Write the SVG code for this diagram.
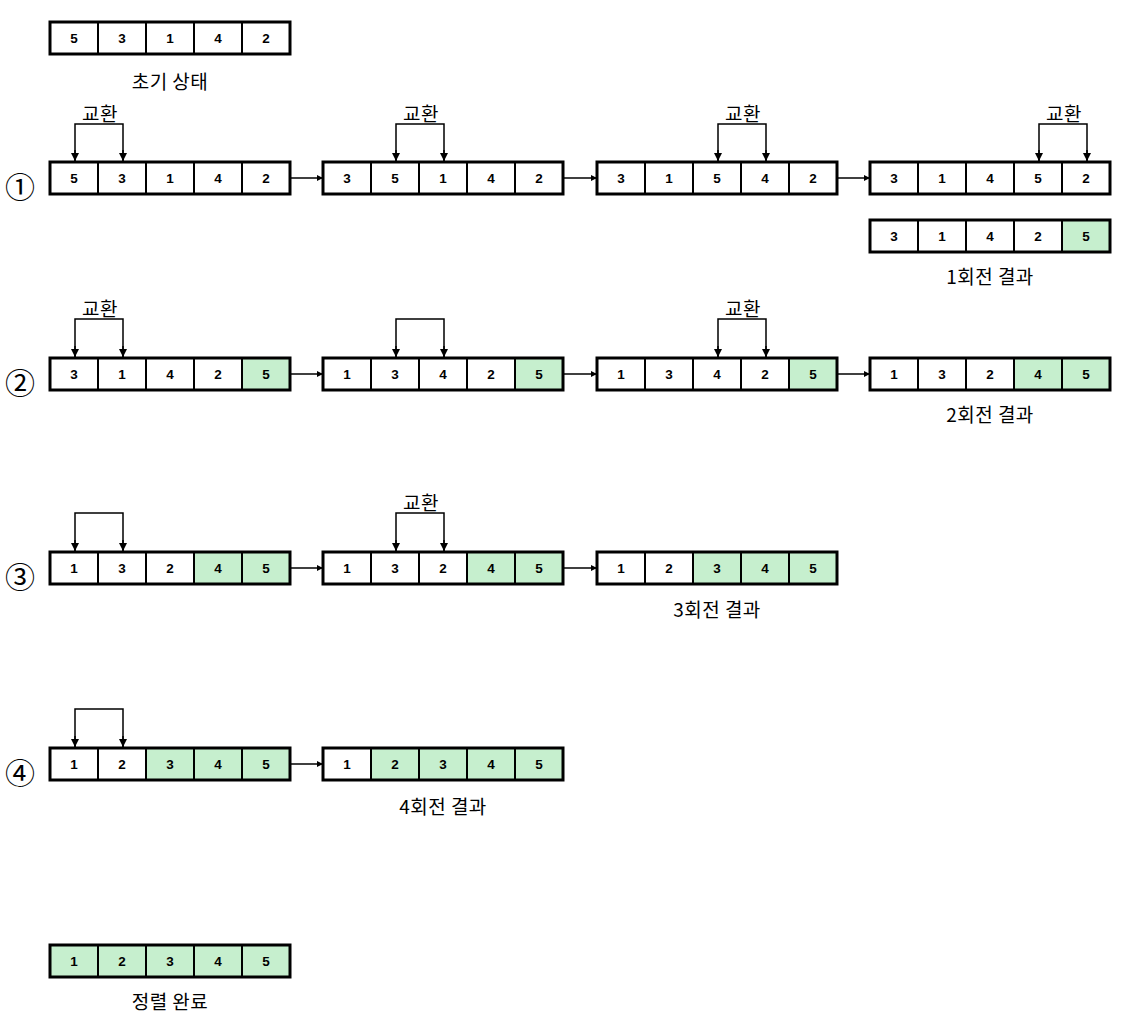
<svg xmlns="http://www.w3.org/2000/svg" width="1124" height="1026" viewBox="0 0 1124 1026">
<style>
.c{fill:#fff;stroke:#000;stroke-width:2}
.g{fill:#c6efce;stroke:#000;stroke-width:2}
.o{fill:none;stroke:#000;stroke-width:3}
.n{font-family:"Liberation Sans",Arial,sans-serif;font-weight:bold;font-size:13.5px;text-anchor:middle;dominant-baseline:central;fill:#000}
.l{font-family:"Noto Sans CJK KR","Noto Sans",sans-serif;font-size:19px;letter-spacing:0.5px;text-anchor:middle;dominant-baseline:central;fill:#000}
.k{font-family:"Noto Sans CJK KR","Noto Sans CJK JP",sans-serif;font-size:30px;text-anchor:middle;dominant-baseline:central;fill:#000}
.ln{fill:none;stroke:#000;stroke-width:1.5}
</style>
<defs>
<marker id="ah" viewBox="0 0 10 10" refX="10" refY="5" markerWidth="6" markerHeight="6" markerUnits="userSpaceOnUse" orient="auto"><path d="M0,0 L10,5 L0,10 z" fill="#000"/></marker>
<marker id="ah2" viewBox="0 0 10 10" refX="10" refY="5" markerWidth="8" markerHeight="8" markerUnits="userSpaceOnUse" orient="auto"><path d="M0,0 L10,5 L0,10 z" fill="#000"/></marker>
</defs>

<g id="init">
<rect class="c" x="50" y="22" width="48" height="32"/><text class="n" x="74" y="38">5</text>
<rect class="c" x="98" y="22" width="48" height="32"/><text class="n" x="122" y="38">3</text>
<rect class="c" x="146" y="22" width="48" height="32"/><text class="n" x="170" y="38">1</text>
<rect class="c" x="194" y="22" width="48" height="32"/><text class="n" x="218" y="38">4</text>
<rect class="c" x="242" y="22" width="48" height="32"/><text class="n" x="266" y="38">2</text>
<rect class="o" x="50" y="22" width="240" height="32"/>
<text class="l" x="170" y="80">초기 상태</text>
</g>

<g id="nums">
<text class="k" x="20" y="185">①</text>
<text class="k" x="20" y="381">②</text>
<text class="k" x="20" y="575">③</text>
<text class="k" x="20" y="771">④</text>
</g>

<g id="r1a1">
<rect class="c" x="50" y="162" width="48" height="32"/><text class="n" x="74" y="178">5</text>
<rect class="c" x="98" y="162" width="48" height="32"/><text class="n" x="122" y="178">3</text>
<rect class="c" x="146" y="162" width="48" height="32"/><text class="n" x="170" y="178">1</text>
<rect class="c" x="194" y="162" width="48" height="32"/><text class="n" x="218" y="178">4</text>
<rect class="c" x="242" y="162" width="48" height="32"/><text class="n" x="266" y="178">2</text>
<rect class="o" x="50" y="162" width="240" height="32"/>
</g>
<g id="r1a2">
<rect class="c" x="323" y="162" width="48" height="32"/><text class="n" x="347" y="178">3</text>
<rect class="c" x="371" y="162" width="48" height="32"/><text class="n" x="395" y="178">5</text>
<rect class="c" x="419" y="162" width="48" height="32"/><text class="n" x="443" y="178">1</text>
<rect class="c" x="467" y="162" width="48" height="32"/><text class="n" x="491" y="178">4</text>
<rect class="c" x="515" y="162" width="48" height="32"/><text class="n" x="539" y="178">2</text>
<rect class="o" x="323" y="162" width="240" height="32"/>
</g>
<g id="r1a3">
<rect class="c" x="597" y="162" width="48" height="32"/><text class="n" x="621" y="178">3</text>
<rect class="c" x="645" y="162" width="48" height="32"/><text class="n" x="669" y="178">1</text>
<rect class="c" x="693" y="162" width="48" height="32"/><text class="n" x="717" y="178">5</text>
<rect class="c" x="741" y="162" width="48" height="32"/><text class="n" x="765" y="178">4</text>
<rect class="c" x="789" y="162" width="48" height="32"/><text class="n" x="813" y="178">2</text>
<rect class="o" x="597" y="162" width="240" height="32"/>
</g>
<g id="r1a4">
<rect class="c" x="870" y="162" width="48" height="32"/><text class="n" x="894" y="178">3</text>
<rect class="c" x="918" y="162" width="48" height="32"/><text class="n" x="942" y="178">1</text>
<rect class="c" x="966" y="162" width="48" height="32"/><text class="n" x="990" y="178">4</text>
<rect class="c" x="1014" y="162" width="48" height="32"/><text class="n" x="1038" y="178">5</text>
<rect class="c" x="1062" y="162" width="48" height="32"/><text class="n" x="1086" y="178">2</text>
<rect class="o" x="870" y="162" width="240" height="32"/>
</g>
<g id="r1res">
<rect class="c" x="870" y="220" width="48" height="32"/><text class="n" x="894" y="236">3</text>
<rect class="c" x="918" y="220" width="48" height="32"/><text class="n" x="942" y="236">1</text>
<rect class="c" x="966" y="220" width="48" height="32"/><text class="n" x="990" y="236">4</text>
<rect class="c" x="1014" y="220" width="48" height="32"/><text class="n" x="1038" y="236">2</text>
<rect class="g" x="1062" y="220" width="48" height="32"/><text class="n" x="1086" y="236">5</text>
<rect class="o" x="870" y="220" width="240" height="32"/>
<text class="l" x="990" y="275">1회전 결과</text>
</g>

<g id="r2a1">
<rect class="c" x="50" y="358" width="48" height="32"/><text class="n" x="74" y="374">3</text>
<rect class="c" x="98" y="358" width="48" height="32"/><text class="n" x="122" y="374">1</text>
<rect class="c" x="146" y="358" width="48" height="32"/><text class="n" x="170" y="374">4</text>
<rect class="c" x="194" y="358" width="48" height="32"/><text class="n" x="218" y="374">2</text>
<rect class="g" x="242" y="358" width="48" height="32"/><text class="n" x="266" y="374">5</text>
<rect class="o" x="50" y="358" width="240" height="32"/>
</g>
<g id="r2a2">
<rect class="c" x="323" y="358" width="48" height="32"/><text class="n" x="347" y="374">1</text>
<rect class="c" x="371" y="358" width="48" height="32"/><text class="n" x="395" y="374">3</text>
<rect class="c" x="419" y="358" width="48" height="32"/><text class="n" x="443" y="374">4</text>
<rect class="c" x="467" y="358" width="48" height="32"/><text class="n" x="491" y="374">2</text>
<rect class="g" x="515" y="358" width="48" height="32"/><text class="n" x="539" y="374">5</text>
<rect class="o" x="323" y="358" width="240" height="32"/>
</g>
<g id="r2a3">
<rect class="c" x="597" y="358" width="48" height="32"/><text class="n" x="621" y="374">1</text>
<rect class="c" x="645" y="358" width="48" height="32"/><text class="n" x="669" y="374">3</text>
<rect class="c" x="693" y="358" width="48" height="32"/><text class="n" x="717" y="374">4</text>
<rect class="c" x="741" y="358" width="48" height="32"/><text class="n" x="765" y="374">2</text>
<rect class="g" x="789" y="358" width="48" height="32"/><text class="n" x="813" y="374">5</text>
<rect class="o" x="597" y="358" width="240" height="32"/>
</g>
<g id="r2a4">
<rect class="c" x="870" y="358" width="48" height="32"/><text class="n" x="894" y="374">1</text>
<rect class="c" x="918" y="358" width="48" height="32"/><text class="n" x="942" y="374">3</text>
<rect class="c" x="966" y="358" width="48" height="32"/><text class="n" x="990" y="374">2</text>
<rect class="g" x="1014" y="358" width="48" height="32"/><text class="n" x="1038" y="374">4</text>
<rect class="g" x="1062" y="358" width="48" height="32"/><text class="n" x="1086" y="374">5</text>
<rect class="o" x="870" y="358" width="240" height="32"/>
<text class="l" x="990" y="413">2회전 결과</text>
</g>

<g id="r3a1">
<rect class="c" x="50" y="552" width="48" height="32"/><text class="n" x="74" y="568">1</text>
<rect class="c" x="98" y="552" width="48" height="32"/><text class="n" x="122" y="568">3</text>
<rect class="c" x="146" y="552" width="48" height="32"/><text class="n" x="170" y="568">2</text>
<rect class="g" x="194" y="552" width="48" height="32"/><text class="n" x="218" y="568">4</text>
<rect class="g" x="242" y="552" width="48" height="32"/><text class="n" x="266" y="568">5</text>
<rect class="o" x="50" y="552" width="240" height="32"/>
</g>
<g id="r3a2">
<rect class="c" x="323" y="552" width="48" height="32"/><text class="n" x="347" y="568">1</text>
<rect class="c" x="371" y="552" width="48" height="32"/><text class="n" x="395" y="568">3</text>
<rect class="c" x="419" y="552" width="48" height="32"/><text class="n" x="443" y="568">2</text>
<rect class="g" x="467" y="552" width="48" height="32"/><text class="n" x="491" y="568">4</text>
<rect class="g" x="515" y="552" width="48" height="32"/><text class="n" x="539" y="568">5</text>
<rect class="o" x="323" y="552" width="240" height="32"/>
</g>
<g id="r3a3">
<rect class="c" x="597" y="552" width="48" height="32"/><text class="n" x="621" y="568">1</text>
<rect class="c" x="645" y="552" width="48" height="32"/><text class="n" x="669" y="568">2</text>
<rect class="g" x="693" y="552" width="48" height="32"/><text class="n" x="717" y="568">3</text>
<rect class="g" x="741" y="552" width="48" height="32"/><text class="n" x="765" y="568">4</text>
<rect class="g" x="789" y="552" width="48" height="32"/><text class="n" x="813" y="568">5</text>
<rect class="o" x="597" y="552" width="240" height="32"/>
<text class="l" x="717" y="608">3회전 결과</text>
</g>

<g id="r4a1">
<rect class="c" x="50" y="748" width="48" height="32"/><text class="n" x="74" y="764">1</text>
<rect class="c" x="98" y="748" width="48" height="32"/><text class="n" x="122" y="764">2</text>
<rect class="g" x="146" y="748" width="48" height="32"/><text class="n" x="170" y="764">3</text>
<rect class="g" x="194" y="748" width="48" height="32"/><text class="n" x="218" y="764">4</text>
<rect class="g" x="242" y="748" width="48" height="32"/><text class="n" x="266" y="764">5</text>
<rect class="o" x="50" y="748" width="240" height="32"/>
</g>
<g id="r4a2">
<rect class="c" x="323" y="748" width="48" height="32"/><text class="n" x="347" y="764">1</text>
<rect class="g" x="371" y="748" width="48" height="32"/><text class="n" x="395" y="764">2</text>
<rect class="g" x="419" y="748" width="48" height="32"/><text class="n" x="443" y="764">3</text>
<rect class="g" x="467" y="748" width="48" height="32"/><text class="n" x="491" y="764">4</text>
<rect class="g" x="515" y="748" width="48" height="32"/><text class="n" x="539" y="764">5</text>
<rect class="o" x="323" y="748" width="240" height="32"/>
<text class="l" x="443" y="805">4회전 결과</text>
</g>

<g id="final">
<rect class="g" x="50" y="945" width="48" height="32"/><text class="n" x="74" y="961">1</text>
<rect class="g" x="98" y="945" width="48" height="32"/><text class="n" x="122" y="961">2</text>
<rect class="g" x="146" y="945" width="48" height="32"/><text class="n" x="170" y="961">3</text>
<rect class="g" x="194" y="945" width="48" height="32"/><text class="n" x="218" y="961">4</text>
<rect class="g" x="242" y="945" width="48" height="32"/><text class="n" x="266" y="961">5</text>
<rect class="o" x="50" y="945" width="240" height="32"/>
<text class="l" x="170" y="1000">정렬 완료</text>
</g>

<g id="swaplabels">
<text class="l" x="100" y="112">교환</text>
<text class="l" x="421" y="112">교환</text>
<text class="l" x="743" y="112">교환</text>
<text class="l" x="1064" y="112">교환</text>
<text class="l" x="100" y="307">교환</text>
<text class="l" x="743" y="307">교환</text>
<text class="l" x="421" y="501">교환</text>
</g>

<g id="connectors">
<line class="ln" x1="291" y1="178" x2="323" y2="178" marker-end="url(#ah)"/>
<line class="ln" x1="564" y1="178" x2="597" y2="178" marker-end="url(#ah)"/>
<line class="ln" x1="838" y1="178" x2="870" y2="178" marker-end="url(#ah)"/>
<line class="ln" x1="291" y1="374" x2="323" y2="374" marker-end="url(#ah)"/>
<line class="ln" x1="564" y1="374" x2="597" y2="374" marker-end="url(#ah)"/>
<line class="ln" x1="838" y1="374" x2="870" y2="374" marker-end="url(#ah)"/>
<line class="ln" x1="291" y1="568" x2="323" y2="568" marker-end="url(#ah)"/>
<line class="ln" x1="564" y1="568" x2="597" y2="568" marker-end="url(#ah)"/>
<line class="ln" x1="291" y1="764" x2="323" y2="764" marker-end="url(#ah)"/>

<path class="ln" d="M75,161 V124 H123 V161" />
<line class="ln" x1="75" y1="150" x2="75" y2="161" marker-end="url(#ah2)"/>
<line class="ln" x1="123" y1="150" x2="123" y2="161" marker-end="url(#ah2)"/>

<path class="ln" d="M396,161 V124 H444 V161" />
<line class="ln" x1="396" y1="150" x2="396" y2="161" marker-end="url(#ah2)"/>
<line class="ln" x1="444" y1="150" x2="444" y2="161" marker-end="url(#ah2)"/>

<path class="ln" d="M718,161 V124 H766 V161" />
<line class="ln" x1="718" y1="150" x2="718" y2="161" marker-end="url(#ah2)"/>
<line class="ln" x1="766" y1="150" x2="766" y2="161" marker-end="url(#ah2)"/>

<path class="ln" d="M1039,161 V124 H1087 V161" />
<line class="ln" x1="1039" y1="150" x2="1039" y2="161" marker-end="url(#ah2)"/>
<line class="ln" x1="1087" y1="150" x2="1087" y2="161" marker-end="url(#ah2)"/>

<path class="ln" d="M75,357 V319 H123 V357" />
<line class="ln" x1="75" y1="346" x2="75" y2="357" marker-end="url(#ah2)"/>
<line class="ln" x1="123" y1="346" x2="123" y2="357" marker-end="url(#ah2)"/>

<path class="ln" d="M396,357 V319 H444 V357" />
<line class="ln" x1="396" y1="346" x2="396" y2="357" marker-end="url(#ah2)"/>
<line class="ln" x1="444" y1="346" x2="444" y2="357" marker-end="url(#ah2)"/>

<path class="ln" d="M718,357 V319 H766 V357" />
<line class="ln" x1="718" y1="346" x2="718" y2="357" marker-end="url(#ah2)"/>
<line class="ln" x1="766" y1="346" x2="766" y2="357" marker-end="url(#ah2)"/>

<path class="ln" d="M75,551 V513 H123 V551" />
<line class="ln" x1="75" y1="540" x2="75" y2="551" marker-end="url(#ah2)"/>
<line class="ln" x1="123" y1="540" x2="123" y2="551" marker-end="url(#ah2)"/>

<path class="ln" d="M396,551 V513 H444 V551" />
<line class="ln" x1="396" y1="540" x2="396" y2="551" marker-end="url(#ah2)"/>
<line class="ln" x1="444" y1="540" x2="444" y2="551" marker-end="url(#ah2)"/>

<path class="ln" d="M75,747 V709 H123 V747" />
<line class="ln" x1="75" y1="736" x2="75" y2="747" marker-end="url(#ah2)"/>
<line class="ln" x1="123" y1="736" x2="123" y2="747" marker-end="url(#ah2)"/>
</g>
</svg>
